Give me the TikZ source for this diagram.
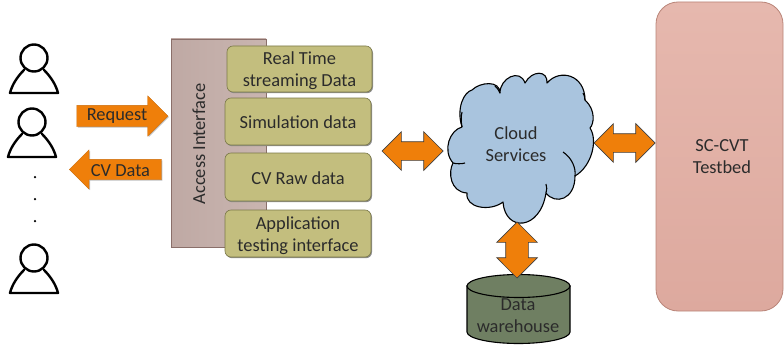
\documentclass[tikz,border=0pt]{standalone}
\usepackage{fontspec}
\setmainfont{Carlito}
\usetikzlibrary{shapes.arrows,shapes.geometric,shadows,calc}
\definecolor{olivebox}{HTML}{C3BE7E}
\definecolor{olivedark}{HTML}{7A7848}
\definecolor{mauvea}{HTML}{BFA9A4}
\definecolor{mauveb}{HTML}{C9B5B0}
\definecolor{mauvedark}{HTML}{8A6F6A}
\definecolor{arroworange}{HTML}{EF7F0A}
\definecolor{skyfill}{HTML}{A9C4DE}
\definecolor{tankfill}{HTML}{6F7F62}
\definecolor{beda}{HTML}{E6B8AE}
\definecolor{bedb}{HTML}{DDA99E}
\definecolor{bedline}{HTML}{B98478}
\definecolor{inktext}{HTML}{2B2B2B}
\tikzset{
  x=1pt,y=-1pt,
  every node/.style={text=inktext,font=\fontsize{18.4}{22}\selectfont,align=center},
  itembox/.style={draw=olivedark,line width=.6pt,fill=olivebox,rounded corners=6pt,inner sep=0,
    general shadow={shadow xshift=1pt,shadow yshift=-1.2pt,fill=black!45}},
  person/.style={line width=2.4pt,draw=black,line cap=round,line join=round},
  blockarrow/.style={single arrow,fill=arroworange,draw=arroworange!85!black,line width=.3pt,inner xsep=0,inner ysep=10.5,
    single arrow head extend=9.5,
    general shadow={shadow xshift=1pt,shadow yshift=-1pt,fill=black!25}},
  dblarrow/.style={double arrow,fill=arroworange,draw=black!75,line width=.7pt,inner xsep=0,inner ysep=9,
    double arrow head extend=10},
}
\newcommand{\personicon}[2]{%
  \draw[person] (#1,#2) circle[radius=13.5];
  \draw[person] (#1-10,#2+12) .. controls (#1-17,#2+19) and (#1-22,#2+27) .. (#1-24,#2+35)
     -- (#1+24,#2+35) .. controls (#1+22,#2+27) and (#1+17,#2+19) .. (#1+10,#2+12);
}
\begin{document}
\begin{tikzpicture}
\useasboundingbox (0,0) rectangle (784,345);
\personicon{34}{58}
\personicon{32}{122}
\personicon{34}{258}
\node[fill=black,circle,minimum size=2.5,inner sep=0] (d1) at (35,177) {};
\node[fill=black,circle,minimum size=2.5,inner sep=0] (d2) at (35,199) {};
\node[fill=black,circle,minimum size=2.5,inner sep=0] (d3) at (35,221) {};

% access interface
\node[draw=mauvedark,line width=.8pt,left color=mauvea,right color=mauveb,minimum width=95,minimum height=208,inner sep=0] (access) at (218.5,143) {};
\node[rotate=90] (accesslabel) at (199,144) {Access Interface};

\node[itembox,minimum width=145,minimum height=46] (rt) at (299.5,69) {};
\node (rtlabel) at (299.5,71) {Real Time\\streaming Data};
\node[itembox,minimum width=146,minimum height=47] (sim) at (298,121.5) {};
\node (simlabel) at (298,122.5) {Simulation data};
\node[itembox,minimum width=146,minimum height=48] (raw) at (298,177) {};
\node (rawlabel) at (298,178) {CV Raw data};
\node[itembox,minimum width=146,minimum height=47] (app) at (298,233.5) {};
\node (applabel) at (298,235.5) {Application\\testing interface};

% request arrows
\node[blockarrow,minimum height=91] (req) at (117,116) {};
\node (reqlabel) at (117,116.5) {Request};
\node[blockarrow,shape border rotate=180,minimum height=92,inner ysep=10,single arrow head extend=9.5] (cv) at (120.5,169.5) {};
\node (cvlabel) at (120.5,170.5) {CV Data};

% cloud
\coordinate (cloudc) at (516,144);
\draw[fill=skyfill,draw=black,line width=1.1pt,line join=round]
 (462,127) .. controls (456,108) and (464,92) .. (472,90)
 .. controls (480,82) and (500,80) .. (500,93)
 .. controls (500,78) and (520,68) .. (525,83)
 .. controls (532,70) and (548,70) .. (547,83)
 .. controls (560,68) and (585,75) .. (585,100)
 .. controls (596,110) and (594,124) .. (590,128)
 .. controls (598,140) and (592,166) .. (575,176)
 .. controls (575,200) and (555,205) .. (546,193)
 .. controls (540,231) and (505,232) .. (503,202)
 .. controls (490,212) and (465,208) .. (467,193)
 .. controls (450,192) and (448,172) .. (453,163)
 .. controls (442,150) and (450,130) .. (462,127) -- cycle;
\draw[line width=1.1pt] (462,127) .. controls (461,122) and (461,116) .. (462,112);
\draw[line width=1.1pt] (563,152) .. controls (572,158) and (576,168) .. (575,176);
\draw[line width=1.1pt] (453,163) .. controls (456,164) and (462,164) .. (465,163);
\draw[line width=1.1pt] (500,93) .. controls (499,90) and (497,88) .. (495,86);
\draw[line width=1.1pt] (585,100) .. controls (585,97) and (584,95) .. (583,93);
\draw[line width=1.1pt] (546,193) .. controls (547,190) and (547,187) .. (546,184);
\node (cloudlabel) at (cloudc) {Cloud\\Services};

% data warehouse
\draw[fill=tankfill,draw=black,line width=1.1pt] (467,286) -- (467,332) arc[start angle=180,end angle=360,x radius=51.5,y radius=-11.5] -- (570,286) -- cycle;
\draw[fill=tankfill,draw=black,line width=1.1pt] (518.5,286) ellipse[x radius=51.5,y radius=11.5];
\node (tanklabel) at (518,316) {Data\\warehouse};

% testbed
\node[draw=bedline,line width=.8pt,top color=beda,bottom color=bedb,rounded corners=22pt,minimum width=127,minimum height=309,inner sep=0] (bed) at (719.5,156.5) {};
\node (bedlabel) at (722,157) {SC-CVT\\Testbed};

% double arrows
\node[dblarrow,minimum height=61] (a1) at (412.5,151) {};
\node[dblarrow,minimum height=61] (a2) at (624.5,143) {};
\node[dblarrow,rotate=90,minimum height=56,inner ysep=11,double arrow head extend=9] (a3) at (517,250) {};
\end{tikzpicture}
\end{document}
